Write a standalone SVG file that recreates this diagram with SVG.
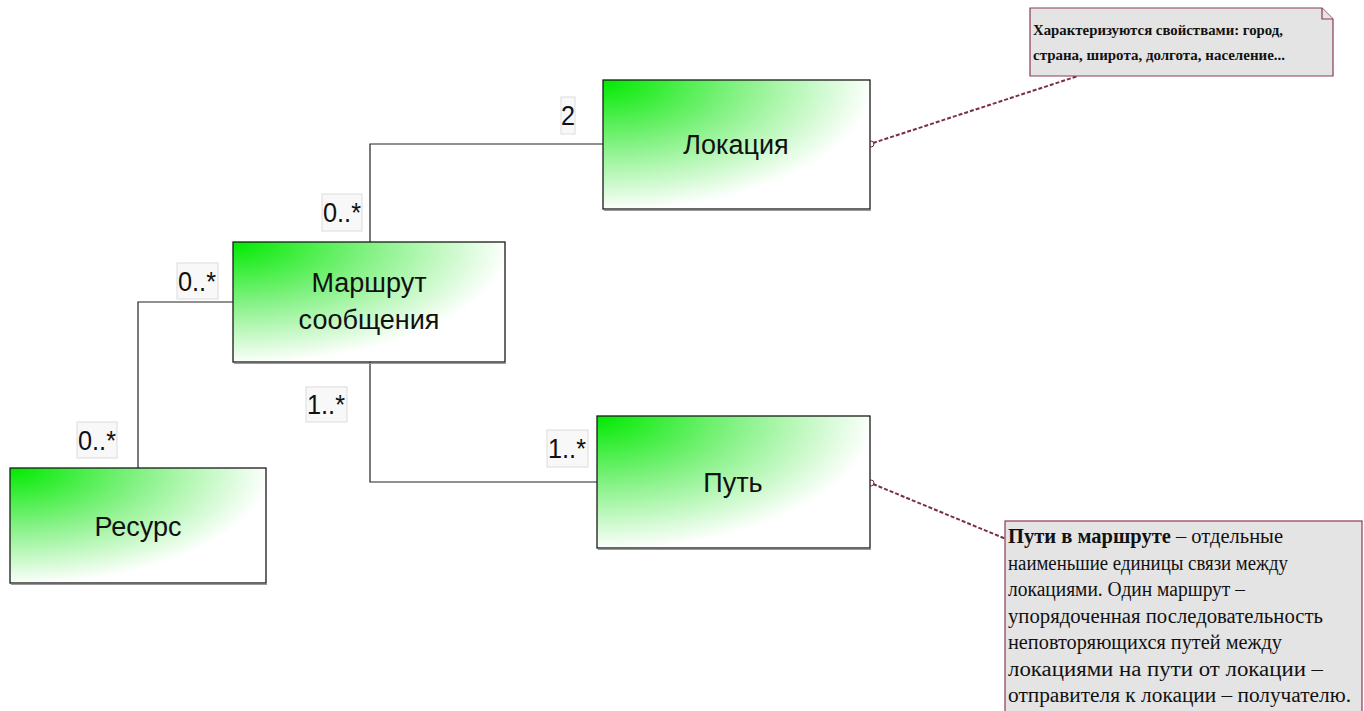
<svg xmlns="http://www.w3.org/2000/svg" width="1364" height="711" viewBox="0 0 1364 711">
<style>
.node{stroke:#1a1a1a;stroke-width:1.3;fill:url(#g)}
.shadow{fill:none;stroke:#999;stroke-width:1}
.nt{font-family:"Liberation Sans",Arial,sans-serif;font-size:27px;fill:#111;text-anchor:middle}
.conn{fill:none;stroke:#222;stroke-width:1.2}
.mb{fill:#f8f8f8;stroke:#dcdcdc;stroke-width:1}
.mt{font-family:"Liberation Sans",Arial,sans-serif;font-size:28px;fill:#111}
.note{fill:#e4e4e4;stroke:#8b3a55;stroke-width:1.2}
.nl{fill:none;stroke:#7a2e48;stroke-width:2;stroke-dasharray:4,2}
.nc{fill:none;stroke:#7a2e48;stroke-width:1}
.n1{font-family:"Liberation Serif","Times New Roman",serif;font-size:14px;font-weight:bold;fill:#111}
.n2{font-family:"Liberation Serif","Times New Roman",serif;font-size:20px;fill:#111}
</style>
<defs>
<radialGradient id="g" cx="0" cy="0" r="1.05" fx="0" fy="0">
<stop offset="0" stop-color="#00ea00"/>
<stop offset="0.5" stop-color="#88f288"/>
<stop offset="0.97" stop-color="#ffffff"/>
</radialGradient>
</defs>
<rect width="1364" height="711" fill="#ffffff"/>
<g id="connectors">
<polyline class="conn" points="370,242 370,144 603,144"/>
<polyline class="conn" points="233,302 138,302 138,468"/>
<polyline class="conn" points="370,362 370,482 597,482"/>
<line class="nl" x1="873" y1="143" x2="1078" y2="76"/>
<circle class="nc" cx="871" cy="144" r="3"/>
<line class="nl" x1="873" y1="484" x2="1006" y2="539"/>
<circle class="nc" cx="871" cy="483" r="3"/>
</g>
<g id="labels">
<rect class="mb" x="561" y="97" width="14" height="37"/>
<text class="mt" x="561" y="125" textLength="14" lengthAdjust="spacingAndGlyphs">2</text>
<rect class="mb" x="322" y="194" width="40" height="37"/>
<text class="mt" x="323" y="222" textLength="38" lengthAdjust="spacingAndGlyphs">0..*</text>
<rect class="mb" x="177" y="263" width="41" height="36"/>
<text class="mt" x="178" y="291" textLength="38" lengthAdjust="spacingAndGlyphs">0..*</text>
<rect class="mb" x="77" y="422" width="40" height="36"/>
<text class="mt" x="78" y="450" textLength="38" lengthAdjust="spacingAndGlyphs">0..*</text>
<rect class="mb" x="306" y="387" width="41" height="35"/>
<text class="mt" x="307" y="414" textLength="38" lengthAdjust="spacingAndGlyphs">1..*</text>
<rect class="mb" x="547" y="430" width="41" height="37"/>
<text class="mt" x="548" y="458" textLength="38" lengthAdjust="spacingAndGlyphs">1..*</text>
</g>
<g id="lokaciya">
<rect class="node" x="603" y="80" width="267" height="129"/>
<line class="shadow" x1="604" y1="210.5" x2="871" y2="210.5"/>
<text class="nt" x="736" y="154">Локация</text>
</g>
<g id="marshrut">
<rect class="node" x="233" y="242" width="272" height="120"/>
<line class="shadow" x1="234" y1="363.5" x2="506" y2="363.5"/>
<text class="nt" x="369" y="292">Маршрут</text>
<text class="nt" x="369" y="329">сообщения</text>
</g>
<g id="resurs">
<rect class="node" x="10" y="468" width="256" height="115"/>
<line class="shadow" x1="11" y1="584.5" x2="267" y2="584.5"/>
<text class="nt" x="138" y="536">Ресурс</text>
</g>
<g id="put">
<rect class="node" x="597" y="416" width="273" height="132"/>
<line class="shadow" x1="598" y1="549.5" x2="871" y2="549.5"/>
<text class="nt" x="733" y="492">Путь</text>
</g>
<g id="note1">
<path class="note" d="M1030,8 H1322 L1333,19 V76 H1030 Z"/>
<path class="note" d="M1322,8 V19 H1333" fill="none"/>
<text class="n1" x="1033" y="35" textLength="250" lengthAdjust="spacingAndGlyphs">Характеризуются свойствами: город,</text>
<text class="n1" x="1033" y="60" textLength="252" lengthAdjust="spacingAndGlyphs">страна, широта, долгота, население...</text>
</g>
<g id="note2">
<rect class="note" x="1005" y="521" width="357" height="200"/>
<text class="n2" x="1008" y="543" textLength="275" lengthAdjust="spacingAndGlyphs"><tspan font-weight="bold">Пути в маршруте</tspan> – отдельные</text>
<text class="n2" x="1008" y="569.5" textLength="280" lengthAdjust="spacingAndGlyphs">наименьшие единицы связи между</text>
<text class="n2" x="1008" y="596" textLength="237" lengthAdjust="spacingAndGlyphs">локациями. Один маршрут –</text>
<text class="n2" x="1008" y="622.5" textLength="315" lengthAdjust="spacingAndGlyphs">упорядоченная последовательность</text>
<text class="n2" x="1008" y="649" textLength="274" lengthAdjust="spacingAndGlyphs">неповторяющихся путей между</text>
<text class="n2" x="1008" y="675.5" textLength="315" lengthAdjust="spacingAndGlyphs">локациями на пути от локации –</text>
<text class="n2" x="1008" y="702" textLength="343" lengthAdjust="spacingAndGlyphs">отправителя к локации – получателю.</text>
</g>
</svg>
